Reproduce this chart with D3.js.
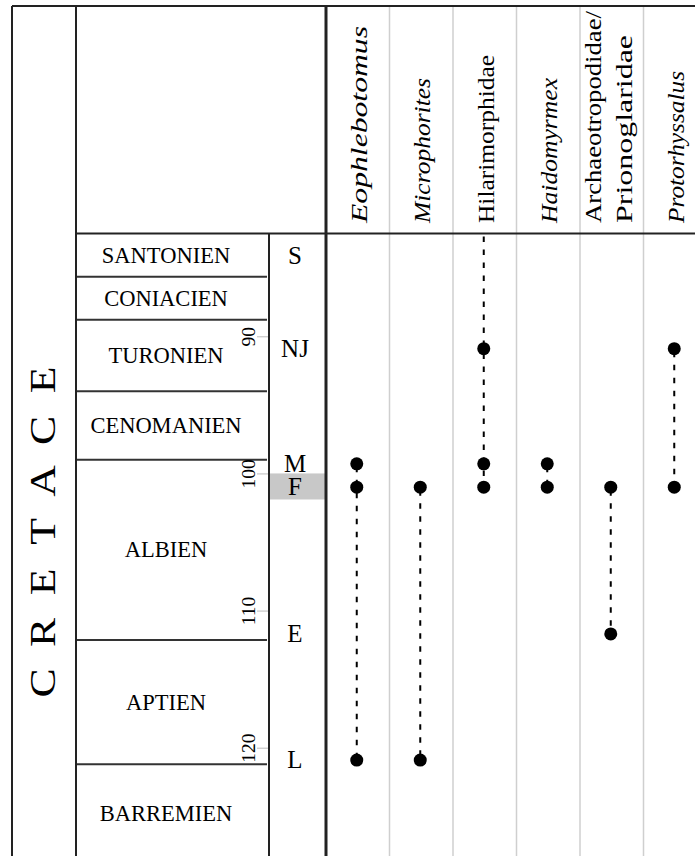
<!DOCTYPE html>
<html>
<head>
<meta charset="utf-8">
<script src="https://cdn.jsdelivr.net/npm/d3@7"></script>
<style>
  html, body { margin: 0; padding: 0; background: #fff; }
  svg { display: block; font-family: "Liberation Serif", "Times New Roman", serif; }
</style>
</head>
<body>
<svg id="chart" width="695" height="856"></svg>
<script>
// taxa (columns) and how they are typeset
const taxa = ["Eophlebotomus", "Microphorites", "Hilarimorphidae", "Haidomyrmex", "Archaeotropodidae/Prionoglaridae", "Protorhyssalus"];
const taxonItalic = [true, true, false, true, false, true];

// amber deposits (zone letters) and their ages, Ma
const zones = ["S", "NJ", "M", "F", "E", "L"];
const zoneAges = [84.1, 90.9, 99.3, 101, 111.7, 120.9];
const zoneF = [100, 101.9];   // grey band behind F

// occurrences of each taxon in the deposits
const occurrences = [
  ["M", "F", "L"],
  ["F", "L"],
  ["NJ", "M", "F"],
  ["M", "F"],
  ["F", "E"],
  ["NJ", "F"]
];
// range extended beyond the youngest record (null = none)
const rangeYoungest = [null, null, 82.5, null, null, null];

// stages and their boundaries (Ma)
const stages = ["SANTONIEN", "CONIACIEN", "TURONIEN", "CENOMANIEN", "ALBIEN", "APTIEN", "BARREMIEN"];
const stageTop = 82.5;
const stageBase = [85.65, 88.8, 94.0, 99.0, 112.15, 121.2, 128.4];

const ageTicks = [90, 100, 110, 120];
const period = "CRETACE";

const svg = d3.select("#chart");
const W = 695, H = 856;

const y = d3.scaleLinear().domain([90, 120]).range([336.3, 747.7]);
const x = d3.scaleBand().domain(taxa).range([326, 707]);
const zoneAge = z => zoneAges[zones.indexOf(z)];

const headerBottom = y(stageTop);
const stageX0 = 76, stageX1 = 269, zoneX1 = 326;
// stretched lengths of the header lines, as typeset in the figure
const headerLen = { "Eophlebotomus": 197, "Microphorites": 145, "Hilarimorphidae": 168, "Haidomyrmex": 145,
  "Archaeotropodidae/": 212, "Prionoglaridae": 188, "Protorhyssalus": 152 };

// column separators
svg.append("g").selectAll("line")
  .data(taxa.slice(1))
  .join("line")
  .attr("x1", d => x(d)).attr("x2", d => x(d))
  .attr("y1", 6).attr("y2", H)
  .attr("stroke", "#cfcfcf").attr("stroke-width", 1.5);

// grey F band
svg.append("rect")
  .attr("x", stageX1).attr("width", zoneX1 - stageX1)
  .attr("y", y(zoneF[0])).attr("height", y(zoneF[1]) - y(zoneF[0]))
  .attr("fill", "#c8c8c8");

// stage boxes
const stageData = stages.map((s, i) => ({ name: s, top: i ? stageBase[i - 1] : stageTop, base: stageBase[i] }));
svg.append("g").selectAll("line")
  .data(stageData.slice(0, -1))
  .join("line")
  .attr("x1", stageX0).attr("x2", stageX1 - 2)
  .attr("y1", d => y(d.base)).attr("y2", d => y(d.base))
  .attr("stroke", "#333").attr("stroke-width", 2);

svg.append("g").selectAll("text")
  .data(stageData)
  .join("text")
  .attr("x", 166)
  .attr("y", d => (y(d.top) + Math.min(y(d.base), H + 10)) / 2 + 7.5)
  .attr("text-anchor", "middle")
  .attr("font-size", 22.5)
  .text(d => d.name);

// age axis
const axis = svg.append("g")
  .attr("transform", `translate(${stageX1 - 1},0)`)
  .call(d3.axisLeft(y).tickValues(ageTicks).tickSize(11).tickFormat(d3.format("d")));
axis.select(".domain").remove();
axis.selectAll(".tick line").attr("stroke", "#bbb");
axis.selectAll(".tick text")
  .attr("transform", "rotate(-90)")
  .attr("x", 0).attr("y", -13).attr("dy", 0)
  .attr("text-anchor", "middle")
  .attr("font-family", "Liberation Serif, Times New Roman, serif")
  .attr("font-size", 19.5)
  .attr("fill", "#000");

// zone letters
svg.append("g").selectAll("text")
  .data(zones)
  .join("text")
  .attr("x", 295)
  .attr("y", d => y(zoneAge(d)) + 8.2)
  .attr("text-anchor", "middle")
  .attr("font-size", 25)
  .text(d => d);

// period name
const py = d3.scalePoint().domain(d3.range(period.length)).range([683, 380]);
svg.append("g").selectAll("text")
  .data(period.split(""))
  .join("text")
  .attr("transform", (d, i) => `translate(54.5,${py(i)}) rotate(-90) scale(1.25,1)`)
  .attr("text-anchor", "middle")
  .attr("font-size", 35)
  .text(d => d);

// frame
const frame = [
  [12, 6, W, 6, 2], [12, 6, 12, H, 2], [stageX0, 6, stageX0, H, 2],
  [stageX0, headerBottom, W, headerBottom, 2], [stageX1, headerBottom, stageX1, H, 2],
  [zoneX1, 6, zoneX1, H, 3]
];
svg.append("g").selectAll("line")
  .data(frame)
  .join("line")
  .attr("x1", d => d[0]).attr("y1", d => d[1])
  .attr("x2", d => d[2]).attr("y2", d => d[3])
  .attr("stroke", "#222").attr("stroke-width", d => d[4]);

// header labels
const header = svg.append("g").selectAll("g")
  .data(taxa.map((t, i) => ({ name: t, lines: t.split(/(?<=\/)/), italic: taxonItalic[i] })))
  .join("g");
header.each(function (d) {
  const cx = x(d.name) + x.bandwidth() / 2;
  const n = d.lines.length;
  d3.select(this).selectAll("text")
    .data(d.lines)
    .join("text")
    .attr("transform", (l, i) => `translate(${cx + 9 - (n - 1) * 20 + i * 31},223) rotate(-90)`)
    .attr("font-size", 24)
    .attr("font-style", d.italic ? "italic" : "normal")
    .attr("textLength", l => headerLen[l])
    .attr("lengthAdjust", "spacingAndGlyphs")
    .text(l => l);
});

// ranges
const ranges = occurrences.map((occ, i) => {
  const ages = occ.map(zoneAge);
  const young = rangeYoungest[i] != null ? rangeYoungest[i] : d3.min(ages);
  return { taxon: taxa[i], from: young, to: d3.max(ages) };
});
svg.append("g").selectAll("line")
  .data(ranges)
  .join("line")
  .attr("x1", d => x(d.taxon) + x.bandwidth() / 2 - 1)
  .attr("x2", d => x(d.taxon) + x.bandwidth() / 2 - 1)
  .attr("y1", d => y(d.from) + 3).attr("y2", d => y(d.to))
  .attr("stroke", "#000").attr("stroke-width", 2)
  .attr("stroke-dasharray", "5.5,7.5");

// occurrence dots
const dots = occurrences.flatMap((occ, i) => occ.map(z => ({ taxon: taxa[i], zone: z })));
svg.append("g").selectAll("circle")
  .data(dots)
  .join("circle")
  .attr("cx", d => x(d.taxon) + x.bandwidth() / 2 - 1)
  .attr("cy", d => y(zoneAge(d.zone)))
  .attr("r", 6.5)
  .attr("fill", "#000");
</script>
</body>
</html>
